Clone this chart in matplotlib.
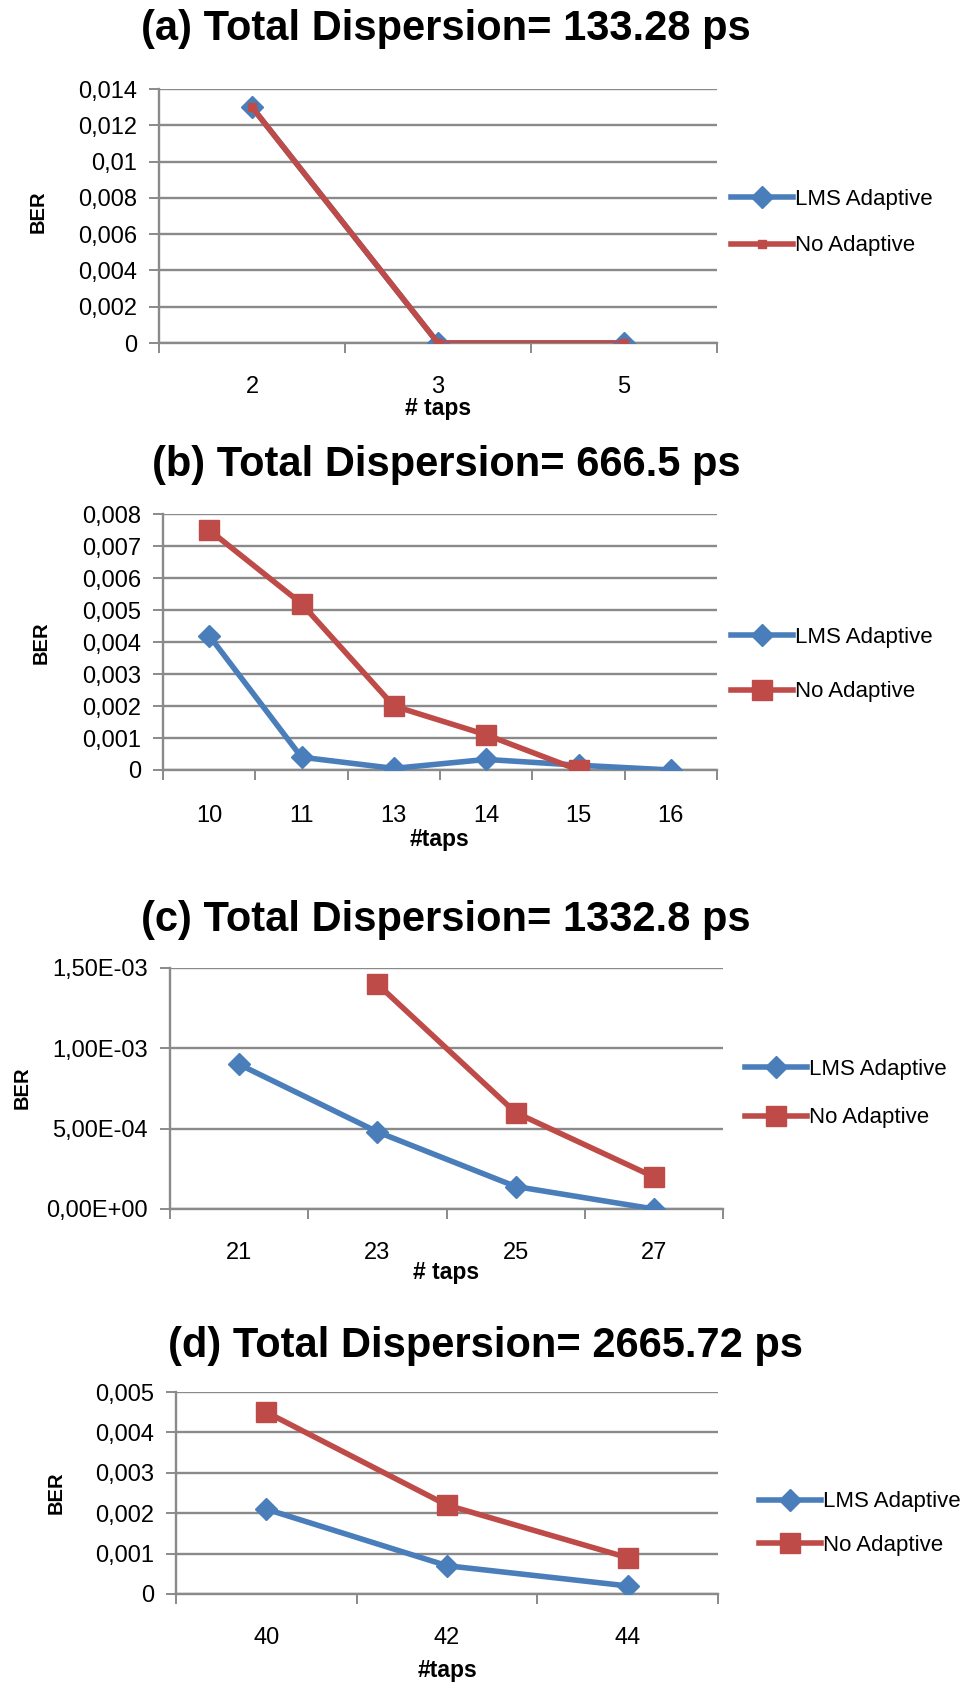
import matplotlib
matplotlib.use("Agg")
import matplotlib.pyplot as plt
import numpy as np

# ---- data -------------------------------------------------------------
taps_a = ["2", "3", "5"]
lms_a = [0.013, 0.0, 0.0]
noad_a = [0.013, 0.0, 0.0]

taps_b = ["10", "11", "13", "14", "15", "16"]
lms_b = [0.0042, 0.0004, 0.00005, 0.00033, 0.00015, 0.0]
noad_b = [0.0075, 0.0052, 0.0020, 0.0011, 0.0, np.nan]

taps_c = ["21", "23", "25", "27"]
lms_c = [0.0009, 0.00048, 0.00014, 0.0]
noad_c = [np.nan, 0.0014, 0.0006, 0.0002]

taps_d = ["40", "42", "44"]
lms_d = [0.0021, 0.0007, 0.0002]
noad_d = [0.0045, 0.0022, 0.0009]

titles = ["(a) Total Dispersion= 133.28 ps",
          "(b) Total Dispersion= 666.5 ps",
          "(c) Total Dispersion= 1332.8 ps",
          "(d) Total Dispersion= 2665.72 ps"]
xlabels = ["# taps", "#taps", "# taps", "#taps"]
yticks_a = [0, 0.002, 0.004, 0.006, 0.008, 0.01, 0.012, 0.014]
ylabels_a = ["0", "0,002", "0,004", "0,006", "0,008", "0,01", "0,012", "0,014"]
yticks_b = [0, 0.001, 0.002, 0.003, 0.004, 0.005, 0.006, 0.007, 0.008]
ylabels_b = ["0", "0,001", "0,002", "0,003", "0,004", "0,005", "0,006", "0,007", "0,008"]
yticks_c = [0, 0.0005, 0.001, 0.0015]
ylabels_c = ["0,00E+00", "5,00E-04", "1,00E-03", "1,50E-03"]
yticks_d = [0, 0.001, 0.002, 0.003, 0.004, 0.005]
ylabels_d = ["0", "0,001", "0,002", "0,003", "0,004", "0,005"]

# ---- style ------------------------------------------------------------
FONT = "Liberation Sans"
BLUE = "#4A7EBB"
RED = "#BE4B48"
GRID = "#8A8A8A"

W, H = 967, 1686
fig = plt.figure(figsize=(W / 100, H / 100), dpi=100)

# panel boxes in pixels: left, right, top, bottom
boxes = [(159, 717, 89, 343), (163, 717, 514, 770),
         (170, 723, 968, 1209), (176, 718, 1392, 1594)]
title_y = [29, 465, 920, 1346]
title_x = [446, 446, 446, 485]
xtick_pad = [24, 25, 24, 24]
xlabel_y = [409, 840, 1272, 1670]
ylabel_xy = [(38, 212), (41, 643), (22, 1088), (56, 1493)]
legend_x = [731, 731, 745, 759]
legend_rows = [(199, 246), (637, 692), (1069, 1118), (1502, 1545)]
red_marker = [6, 14, 14, 14]

panels = [
    (taps_a, lms_a, noad_a, yticks_a, ylabels_a),
    (taps_b, lms_b, noad_b, yticks_b, ylabels_b),
    (taps_c, lms_c, noad_c, yticks_c, ylabels_c),
    (taps_d, lms_d, noad_d, yticks_d, ylabels_d),
]

for i, (cats, lms, noad, yt, yl) in enumerate(panels):
    l, r, t, b = boxes[i]
    ax = fig.add_axes([l / W, 1 - b / H, (r - l) / W, (b - t) / H])
    x = np.arange(len(cats))
    h_lms, = ax.plot(x, lms, color=BLUE, lw=4, marker="D", ms=11,
                     label="LMS Adaptive", zorder=3, solid_joinstyle="round")
    h_no, = ax.plot(x, noad, color=RED, lw=4, marker="s", ms=red_marker[i],
                    label="No Adaptive", zorder=4, solid_joinstyle="round")

    ax.set_xlim(-0.5, len(cats) - 0.5)
    ax.set_ylim(yt[0], yt[-1])
    ax.set_yticks(yt)
    ax.set_yticklabels(yl, fontfamily=FONT, fontsize=17)
    ax.set_xticks(x)
    ax.set_xticklabels(cats, fontfamily=FONT, fontsize=17)
    ax.set_xticks(np.arange(-0.5, len(cats)), minor=True)
    ax.tick_params(axis="x", which="major", length=0, pad=xtick_pad[i])
    ax.tick_params(axis="x", which="minor", length=7, color=GRID, width=1.4,
                   direction="out")
    ax.tick_params(axis="y", length=7, color=GRID, width=1.4, pad=9,
                   direction="out")
    ax.grid(axis="y", color=GRID, lw=1.7, zorder=0)
    ax.set_axisbelow(True)
    for s in ("top", "right"):
        ax.spines[s].set_visible(False)
    for s in ("left", "bottom"):
        ax.spines[s].set_color(GRID)
        ax.spines[s].set_linewidth(1.7)

    yx, yy = ylabel_xy[i]
    fig.text(yx / W, 1 - yy / H, "BER", fontfamily=FONT, fontweight="bold",
             fontsize=14.5, rotation=90, ha="center", va="center")
    fig.text(title_x[i] / W, 1 - title_y[i] / H, titles[i],
             fontfamily=FONT, fontweight="bold", fontsize=30,
             ha="center", va="center")
    fig.text(((l + r) / 2) / W, 1 - xlabel_y[i] / H, xlabels[i],
             fontfamily=FONT, fontweight="bold", fontsize=16.5,
             ha="center", va="center")

    # legend rows placed individually so their spacing is exact
    for h, row in zip((h_lms, h_no), legend_rows[i]):
        fig.legend(handles=[h], loc="center left",
                   bbox_to_anchor=(legend_x[i] / W, 1 - row / H),
                   frameon=False, prop={"family": FONT, "size": 16},
                   handlelength=2.8, handletextpad=0.1, borderpad=0,
                   borderaxespad=0)

fig.savefig("out.png", dpi=100)
